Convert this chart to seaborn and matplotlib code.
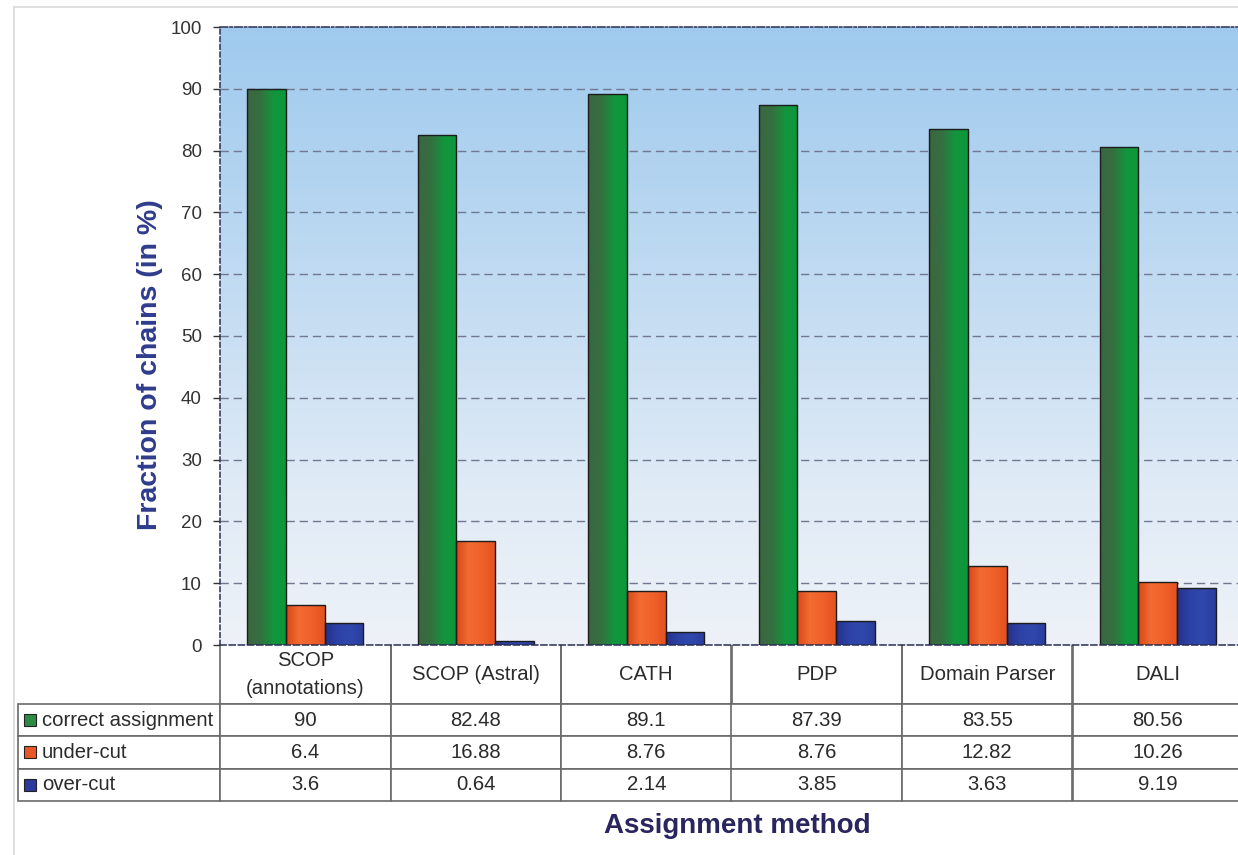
import numpy as np
import pandas as pd
import matplotlib
matplotlib.use("Agg")
import matplotlib.pyplot as plt
import seaborn as sns
from matplotlib.colors import LinearSegmentedColormap
from matplotlib.patches import Rectangle
from matplotlib.lines import Line2D
from matplotlib.table import Table

# ---- data -------------------------------------------------------------
methods = ["SCOP\n(annotations)", "SCOP (Astral)", "CATH", "PDP",
           "Domain Parser", "DALI"]
series = ["correct assignment", "under-cut", "over-cut"]
correct = [90, 82.48, 89.1, 87.39, 83.55, 80.56]
under_cut = [6.4, 16.88, 8.76, 8.76, 12.82, 10.26]
over_cut = [3.6, 0.64, 2.14, 3.85, 3.63, 9.19]
yticks = list(range(0, 101, 10))

# ---- styling ----------------------------------------------------------
base_colors = ["#2e8b45", "#e8582a", "#2b3a9c"]
bar_gradients = [
    ["#3b6640", "#356f40", "#13953d", "#0c983b"],
    ["#d94616", "#f36c32", "#f0602a", "#e3521f"],
    ["#26318a", "#2d42a6", "#3048ac", "#2a3c9e"],
]
bg_stops = ["#eef2f8", "#e0ebf6", "#c9dff3", "#b3d4f0", "#9fcaee"]

sns.set_style("white")
plt.rcParams["font.family"] = ["Liberation Sans", "DejaVu Sans"]

W, H = 1238, 855
fig = plt.figure(figsize=(W / 100, H / 100), dpi=100)
ax_left, ax_top, ax_bottom, ax_w = 220, 27, 645, 1023
ax_h = ax_bottom - ax_top
ax = fig.add_axes([ax_left / W, 1 - ax_bottom / H, ax_w / W, ax_h / H])

values = {"correct assignment": correct, "under-cut": under_cut,
          "over-cut": over_cut}
df = pd.DataFrame(
    [(m, s, v) for s in series for m, v in zip(methods, values[s])],
    columns=["method", "series", "value"],
)

sns.barplot(data=df, x="method", y="value", hue="series", order=methods,
            hue_order=series, palette=base_colors, width=0.68, gap=0,
            saturation=1, edgecolor="#1c1c1c", linewidth=1.0, legend=False,
            ax=ax, zorder=3)

# shaded fill inside every bar
ramp = np.linspace(0, 1, 256)[None, :]
for container, stops in zip(ax.containers, bar_gradients):
    cmap = LinearSegmentedColormap.from_list("bar", stops)
    for bar in container:
        x0, y0 = bar.get_xy()
        w, h = bar.get_width(), bar.get_height()
        im = ax.imshow(ramp, cmap=cmap, extent=[x0, x0 + w, y0, y0 + h],
                       aspect="auto", interpolation="bicubic", zorder=2.5)
        im.set_clip_path(bar)
        bar.set_facecolor("none")

# vertical background wash of the plot area
bg_cmap = LinearSegmentedColormap.from_list("bg", bg_stops)
ax.imshow(np.linspace(0, 1, 256)[:, None], cmap=bg_cmap, origin="lower",
          extent=[0, 1, 0, 1], transform=ax.transAxes, aspect="auto",
          interpolation="bicubic", zorder=0)

ax.set_xlim(-0.5, len(methods) - 0.5)
ax.set_ylim(0, 100)

# grid and frame
for t in yticks[1:-1]:
    ax.axhline(t, color="#6f7890", lw=1.0, linestyle=(0, (6, 3.5)), zorder=1)
ax.spines["right"].set_visible(False)
ax.spines["left"].set_linestyle((0, (3, 2)))
ax.spines["top"].set_linestyle((0, (5, 1.5, 1.5, 1.5)))
ax.spines["bottom"].set_linestyle((0, (4, 2)))
for s in ("left", "top", "bottom"):
    ax.spines[s].set_color("#2a2f55")
    ax.spines[s].set_linewidth(1.1)
    ax.spines[s].set_zorder(4)

ax.set_yticks(yticks)
ax.tick_params(axis="y", direction="out", length=5, width=1, color="#333333",
               pad=8, labelsize=13.5, labelcolor="#333333", left=True)
ax.tick_params(axis="x", bottom=False, labelbottom=False)

ax.set_ylabel("Fraction of chains (in %)", fontsize=20.5, fontweight="bold",
              color="#2f3b8c")
ax.yaxis.set_label_coords((150 - ax_left) / ax_w, 1 - (365 - ax_top) / ax_h)
ax.yaxis.label.set_va("center")

ax.set_xlabel("Assignment method", fontsize=20, fontweight="bold",
              color="#29255e")
ax.xaxis.set_label_coords((737 - ax_left) / ax_w, -(826 - ax_bottom) / ax_h)
ax.xaxis.label.set_va("center")

# ---- data table under the bars ---------------------------------------
label_col_w = 202
head_h, row_h = 59, 32.3
tab_h = head_h + row_h * len(series)
col_w = 1 / len(methods)
# the bbox covers the value grid; the row-label column hangs off its left
tab = Table(ax, bbox=[0, -tab_h / ax_h, 1, tab_h / ax_h])
cell_style = dict(edgecolor="#6a6a6a", facecolor="white")
for j, m in enumerate(methods):
    cell = tab.add_cell(0, j, col_w, head_h / ax_h, text=m, loc="center",
                        **cell_style)
    cell.visible_edges = "BLR"
    cell.get_text().set_linespacing(1.55)
for i, s in enumerate(series, start=1):
    cell = tab.add_cell(i, -1, label_col_w / ax_w, row_h / ax_h, text=s,
                        loc="left", **cell_style)
    cell.PAD = 24 / label_col_w
    for j, v in enumerate(values[s]):
        tab.add_cell(i, j, col_w, row_h / ax_h, text=f"{v:g}", loc="center",
                     **cell_style)
tab.auto_set_font_size(False)
tab.set_fontsize(14.6)
for cell in tab.get_celld().values():
    cell.set_linewidth(1.2)
    cell.get_text().set_color("#2b2b2b")
ax.add_table(tab)

# colour keys in the row-label column
sq = 12
for i, color in enumerate(base_colors):
    yc = ax_bottom + head_h + row_h * (i + 0.5)
    ax.add_patch(Rectangle(((24 - ax_left) / ax_w, -(yc + sq / 2 - ax_bottom) / ax_h),
                           sq / ax_w, sq / ax_h, transform=ax.transAxes,
                           facecolor=color, edgecolor="#222222", lw=0.8,
                           clip_on=False, zorder=6))

# light outer frame
fig.add_artist(Line2D([14 / W, 1], [1 - 7 / H] * 2, transform=fig.transFigure,
                      color="#d9d9d9", lw=1.2))
fig.add_artist(Line2D([14 / W] * 2, [0, 1 - 7 / H], transform=fig.transFigure,
                      color="#d9d9d9", lw=1.2))

fig.savefig("out.png", dpi=100)
